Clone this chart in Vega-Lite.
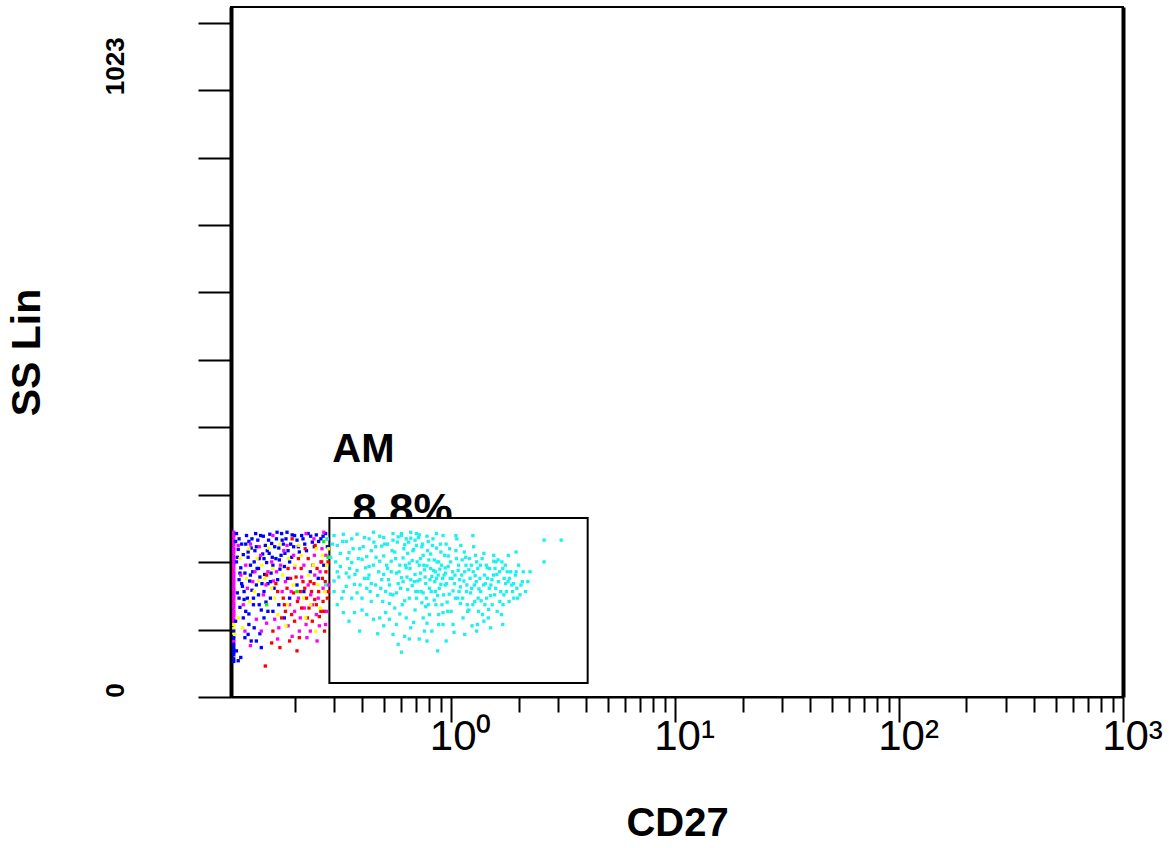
{
  "$schema": "https://vega.github.io/schema/vega-lite/v6.json",
  "autosize": {"type": "none"},
  "padding": {"left": 231, "top": 7, "right": 46, "bottom": 151},
  "width": 892,
  "height": 690,
  "background": "white",
  "config": {
    "view": {"stroke": "black", "strokeWidth": 2},
    "font": "Liberation Sans"
  },
  "datasets": {
    "txt": [
      {"x": 0.2947, "y": 356, "t": "AM", "s": 40},
      {"x": 0.362, "y": 261, "t": "8.8%", "s": 44}
    ],
    "gate": [
      {"x": 0.286, "x2": 4.07, "y": 21.2, "y2": 271.6}
    ],
    "pts": [
      {"x":0.107,"y":250,"c":"m"},{"x":0.107,"y":247,"c":"m"},{"x":0.107,"y":243,"c":"m"},{"x":0.107,"y":238,"c":"m"},{"x":0.107,"y":235,"c":"m"},{"x":0.107,"y":231,"c":"m"},{"x":0.107,"y":226,"c":"m"},{"x":0.107,"y":223,"c":"m"},{"x":0.107,"y":219,"c":"m"},{"x":0.107,"y":214,"c":"m"},{"x":0.107,"y":211,"c":"m"},{"x":0.107,"y":207,"c":"m"},{"x":0.107,"y":202,"c":"m"},{"x":0.107,"y":199,"c":"m"},{"x":0.107,"y":195,"c":"m"},{"x":0.107,"y":190,"c":"m"},{"x":0.107,"y":187,"c":"m"},{"x":0.107,"y":183,"c":"m"},{"x":0.107,"y":178,"c":"m"},{"x":0.107,"y":175,"c":"m"},{"x":0.107,"y":171,"c":"m"},{"x":0.107,"y":166,"c":"m"},{"x":0.107,"y":163,"c":"m"},{"x":0.107,"y":159,"c":"m"},{"x":0.107,"y":154,"c":"m"},{"x":0.107,"y":151,"c":"m"},{"x":0.107,"y":147,"c":"m"},{"x":0.107,"y":142,"c":"m"},{"x":0.107,"y":139,"c":"m"},{"x":0.107,"y":135,"c":"m"},{"x":0.107,"y":130,"c":"m"},{"x":0.107,"y":127,"c":"m"},{"x":0.107,"y":123,"c":"m"},{"x":0.107,"y":118,"c":"m"},{"x":0.107,"y":115,"c":"m"},
      {"x":0.107,"y":110,"c":"y"},{"x":0.107,"y":104,"c":"y"},{"x":0.107,"y":96,"c":"y"},{"x":0.107,"y":100,"c":"b"},{"x":0.107,"y":92,"c":"b"},{"x":0.107,"y":88,"c":"b"},{"x":0.107,"y":84,"c":"m"},{"x":0.107,"y":80,"c":"b"},{"x":0.107,"y":76,"c":"b"},{"x":0.107,"y":72,"c":"b"},{"x":0.107,"y":68,"c":"b"},{"x":0.107,"y":64,"c":"b"},{"x":0.107,"y":58,"c":"b"},{"x":0.107,"y":54,"c":"b"},
      {"x":0.110,"y":248,"c":"b"},{"x":0.113,"y":240,"c":"b"},{"x":0.116,"y":232,"c":"b"},{"x":0.112,"y":224,"c":"b"},{"x":0.118,"y":216,"c":"b"},{"x":0.110,"y":205,"c":"b"},{"x":0.115,"y":196,"c":"b"},{"x":0.120,"y":188,"c":"b"},{"x":0.113,"y":178,"c":"b"},{"x":0.117,"y":168,"c":"b"},{"x":0.111,"y":158,"c":"b"},{"x":0.119,"y":148,"c":"b"},{"x":0.114,"y":136,"c":"b"},{"x":0.122,"y":245,"c":"b"},{"x":0.125,"y":236,"c":"b"},{"x":0.128,"y":226,"c":"b"},{"x":0.124,"y":212,"c":"b"},{"x":0.127,"y":200,"c":"b"},{"x":0.130,"y":190,"c":"b"},{"x":0.126,"y":176,"c":"b"},{"x":0.129,"y":162,"c":"b"},{"x":0.123,"y":150,"c":"b"},{"x":0.131,"y":140,"c":"b"},{"x":0.125,"y":126,"c":"b"},{"x":0.134,"y":248,"c":"b"},{"x":0.137,"y":238,"c":"b"},{"x":0.133,"y":222,"c":"b"},{"x":0.139,"y":210,"c":"b"},{"x":0.136,"y":195,"c":"b"},{"x":0.140,"y":182,"c":"b"},{"x":0.135,"y":170,"c":"b"},{"x":0.138,"y":155,"c":"b"},{"x":0.142,"y":132,"c":"b"},{"x":0.145,"y":244,"c":"b"},{"x":0.148,"y":230,"c":"b"},{"x":0.144,"y":217,"c":"b"},{"x":0.150,"y":204,"c":"b"},{"x":0.147,"y":186,"c":"b"},{"x":0.152,"y":172,"c":"b"},{"x":0.146,"y":160,"c":"b"},{"x":0.149,"y":144,"c":"b"},{"x":0.155,"y":247,"c":"b"},{"x":0.158,"y":233,"c":"b"},{"x":0.154,"y":218,"c":"b"},{"x":0.160,"y":200,"c":"b"},{"x":0.157,"y":188,"c":"b"},{"x":0.162,"y":165,"c":"b"},{"x":0.156,"y":150,"c":"b"},{"x":0.166,"y":240,"c":"b"},{"x":0.170,"y":226,"c":"b"},{"x":0.165,"y":210,"c":"b"},{"x":0.172,"y":194,"c":"b"},{"x":0.168,"y":178,"c":"b"},{"x":0.175,"y":248,"c":"b"},{"x":0.178,"y":232,"c":"b"},{"x":0.174,"y":215,"c":"b"},{"x":0.180,"y":198,"c":"b"},{"x":0.183,"y":240,"c":"b"},{"x":0.187,"y":222,"c":"b"},{"x":0.190,"y":205,"c":"b"},{"x":0.186,"y":180,"c":"b"},{"x":0.195,"y":246,"c":"b"},{"x":0.198,"y":228,"c":"b"},{"x":0.194,"y":212,"c":"b"},{"x":0.205,"y":238,"c":"b"},{"x":0.210,"y":220,"c":"b"},{"x":0.215,"y":245,"c":"b"},{"x":0.222,"y":232,"c":"b"},{"x":0.230,"y":248,"c":"b"},{"x":0.240,"y":235,"c":"b"},{"x":0.250,"y":246,"c":"b"},{"x":0.262,"y":240,"c":"b"},{"x":0.275,"y":248,"c":"b"},{"x":0.118,"y":120,"c":"b"},{"x":0.125,"y":110,"c":"b"},{"x":0.132,"y":105,"c":"b"},{"x":0.140,"y":96,"c":"b"},{"x":0.120,"y":90,"c":"b"},{"x":0.128,"y":85,"c":"b"},{"x":0.146,"y":120,"c":"b"},{"x":0.160,"y":130,"c":"b"},{"x":0.115,"y":60,"c":"b"},{"x":0.112,"y":55,"c":"b"},{"x":0.190,"y":150,"c":"b"},{"x":0.205,"y":170,"c":"b"},{"x":0.270,"y":200,"c":"b"},{"x":0.255,"y":180,"c":"b"},{"x":0.235,"y":190,"c":"b"},{"x":0.220,"y":160,"c":"b"},{"x":0.170,"y":140,"c":"b"},{"x":0.180,"y":120,"c":"b"},
      {"x":0.109,"y":236,"c":"b"},{"x":0.111,"y":212,"c":"b"},{"x":0.114,"y":188,"c":"b"},{"x":0.116,"y":172,"c":"b"},{"x":0.119,"y":160,"c":"b"},{"x":0.121,"y":232,"c":"b"},{"x":0.124,"y":220,"c":"b"},{"x":0.127,"y":185,"c":"b"},{"x":0.129,"y":240,"c":"b"},{"x":0.132,"y":205,"c":"b"},{"x":0.135,"y":228,"c":"b"},{"x":0.138,"y":195,"c":"b"},{"x":0.141,"y":245,"c":"b"},{"x":0.143,"y":172,"c":"b"},{"x":0.146,"y":210,"c":"b"},{"x":0.151,"y":222,"c":"b"},{"x":0.153,"y":238,"c":"b"},{"x":0.156,"y":175,"c":"b"},{"x":0.159,"y":212,"c":"b"},{"x":0.163,"y":228,"c":"b"},{"x":0.167,"y":250,"c":"b"},{"x":0.171,"y":208,"c":"b"},{"x":0.176,"y":238,"c":"b"},{"x":0.181,"y":218,"c":"b"},{"x":0.185,"y":250,"c":"b"},{"x":0.192,"y":232,"c":"b"},{"x":0.200,"y":245,"c":"b"},{"x":0.208,"y":228,"c":"b"},{"x":0.218,"y":240,"c":"b"},{"x":0.226,"y":222,"c":"b"},{"x":0.236,"y":244,"c":"b"},{"x":0.245,"y":228,"c":"b"},{"x":0.256,"y":236,"c":"b"},{"x":0.268,"y":244,"c":"b"},{"x":0.280,"y":228,"c":"b"},{"x":0.113,"y":150,"c":"b"},{"x":0.121,"y":130,"c":"b"},{"x":0.109,"y":115,"c":"b"},{"x":0.131,"y":150,"c":"b"},{"x":0.139,"y":140,"c":"b"},{"x":0.152,"y":130,"c":"b"},{"x":0.124,"y":95,"c":"b"},{"x":0.135,"y":85,"c":"b"},{"x":0.142,"y":75,"c":"b"},{"x":0.110,"y":70,"c":"b"},
      {"x":0.112,"y":230,"c":"m"},{"x":0.121,"y":200,"c":"m"},{"x":0.130,"y":175,"c":"m"},{"x":0.118,"y":140,"c":"m"},{"x":0.127,"y":232,"c":"m"},{"x":0.141,"y":215,"c":"m"},{"x":0.152,"y":190,"c":"m"},{"x":0.161,"y":176,"c":"m"},{"x":0.176,"y":160,"c":"m"},{"x":0.190,"y":140,"c":"m"},{"x":0.200,"y":130,"c":"m"},{"x":0.212,"y":120,"c":"m"},{"x":0.225,"y":110,"c":"m"},{"x":0.240,"y":140,"c":"m"},{"x":0.255,"y":150,"c":"m"},{"x":0.268,"y":165,"c":"m"},{"x":0.278,"y":130,"c":"m"},{"x":0.160,"y":245,"c":"m"},{"x":0.185,"y":230,"c":"m"},{"x":0.200,"y":196,"c":"m"},{"x":0.220,"y":200,"c":"m"},{"x":0.245,"y":215,"c":"m"},{"x":0.265,"y":225,"c":"m"},{"x":0.230,"y":170,"c":"m"},{"x":0.250,"y":125,"c":"m"},{"x":0.275,"y":110,"c":"m"},{"x":0.210,"y":100,"c":"m"},{"x":0.195,"y":92,"c":"m"},{"x":0.170,"y":105,"c":"m"},{"x":0.150,"y":112,"c":"m"},{"x":0.135,"y":118,"c":"m"},{"x":0.120,"y":100,"c":"m"},{"x":0.145,"y":155,"c":"m"},{"x":0.173,"y":200,"c":"m"},{"x":0.215,"y":182,"c":"m"},{"x":0.260,"y":190,"c":"m"},{"x":0.280,"y":240,"c":"m"},{"x":0.270,"y":250,"c":"m"},{"x":0.235,"y":100,"c":"m"},{"x":0.258,"y":108,"c":"m"},{"x":0.168,"y":88,"c":"m"},
      {"x":0.115,"y":185,"c":"m"},{"x":0.123,"y":165,"c":"m"},{"x":0.133,"y":190,"c":"m"},{"x":0.139,"y":228,"c":"m"},{"x":0.149,"y":170,"c":"m"},{"x":0.158,"y":205,"c":"m"},{"x":0.166,"y":190,"c":"m"},{"x":0.182,"y":175,"c":"m"},{"x":0.193,"y":160,"c":"m"},{"x":0.208,"y":150,"c":"m"},{"x":0.221,"y":135,"c":"m"},{"x":0.236,"y":155,"c":"m"},{"x":0.246,"y":185,"c":"m"},{"x":0.262,"y":205,"c":"m"},{"x":0.276,"y":215,"c":"m"},{"x":0.284,"y":170,"c":"m"},{"x":0.244,"y":240,"c":"m"},{"x":0.225,"y":248,"c":"m"},{"x":0.198,"y":215,"c":"m"},{"x":0.179,"y":222,"c":"m"},{"x":0.163,"y":118,"c":"m"},{"x":0.187,"y":108,"c":"m"},{"x":0.227,"y":90,"c":"m"},{"x":0.252,"y":85,"c":"m"},{"x":0.142,"y":100,"c":"m"},{"x":0.127,"y":78,"c":"m"},
      {"x":0.150,"y":185,"c":"r"},{"x":0.165,"y":172,"c":"r"},{"x":0.178,"y":150,"c":"r"},{"x":0.185,"y":165,"c":"r"},{"x":0.192,"y":180,"c":"r"},{"x":0.198,"y":158,"c":"r"},{"x":0.206,"y":145,"c":"r"},{"x":0.212,"y":160,"c":"r"},{"x":0.218,"y":175,"c":"r"},{"x":0.226,"y":150,"c":"r"},{"x":0.232,"y":135,"c":"r"},{"x":0.238,"y":160,"c":"r"},{"x":0.244,"y":172,"c":"r"},{"x":0.250,"y":140,"c":"r"},{"x":0.256,"y":160,"c":"r"},{"x":0.262,"y":130,"c":"r"},{"x":0.268,"y":145,"c":"r"},{"x":0.274,"y":175,"c":"r"},{"x":0.280,"y":150,"c":"r"},{"x":0.200,"y":115,"c":"r"},{"x":0.215,"y":135,"c":"r"},{"x":0.228,"y":120,"c":"r"},{"x":0.240,"y":115,"c":"r"},{"x":0.252,"y":195,"c":"r"},{"x":0.264,"y":205,"c":"r"},{"x":0.276,"y":190,"c":"r"},{"x":0.223,"y":225,"c":"r"},{"x":0.208,"y":210,"c":"r"},{"x":0.187,"y":195,"c":"r"},{"x":0.175,"y":120,"c":"r"},{"x":0.160,"y":100,"c":"r"},{"x":0.158,"y":82,"c":"r"},{"x":0.172,"y":75,"c":"r"},{"x":0.205,"y":70,"c":"r"},{"x":0.148,"y":47,"c":"r"},{"x":0.182,"y":130,"c":"r"},{"x":0.247,"y":230,"c":"r"},{"x":0.272,"y":100,"c":"r"},{"x":0.195,"y":240,"c":"r"},{"x":0.230,"y":210,"c":"r"},
      {"x":0.168,"y":160,"c":"r"},{"x":0.180,"y":140,"c":"r"},{"x":0.194,"y":125,"c":"r"},{"x":0.203,"y":182,"c":"r"},{"x":0.214,"y":195,"c":"r"},{"x":0.235,"y":175,"c":"r"},{"x":0.246,"y":148,"c":"r"},{"x":0.258,"y":122,"c":"r"},{"x":0.270,"y":130,"c":"r"},{"x":0.283,"y":160,"c":"r"},{"x":0.266,"y":180,"c":"r"},{"x":0.241,"y":200,"c":"r"},{"x":0.222,"y":165,"c":"r"},{"x":0.210,"y":90,"c":"r"},{"x":0.190,"y":85,"c":"r"},{"x":0.282,"y":205,"c":"r"},
      {"x":0.114,"y":210,"c":"y"},{"x":0.122,"y":180,"c":"y"},{"x":0.132,"y":160,"c":"y"},{"x":0.143,"y":200,"c":"y"},{"x":0.153,"y":226,"c":"y"},{"x":0.163,"y":150,"c":"y"},{"x":0.177,"y":185,"c":"y"},{"x":0.188,"y":210,"c":"y"},{"x":0.197,"y":170,"c":"y"},{"x":0.209,"y":230,"c":"y"},{"x":0.219,"y":150,"c":"y"},{"x":0.231,"y":185,"c":"y"},{"x":0.242,"y":200,"c":"y"},{"x":0.254,"y":170,"c":"y"},{"x":0.266,"y":215,"c":"y"},{"x":0.278,"y":200,"c":"y"},{"x":0.168,"y":125,"c":"y"},{"x":0.183,"y":108,"c":"y"},{"x":0.138,"y":176,"c":"y"},{"x":0.126,"y":145,"c":"y"},{"x":0.224,"y":120,"c":"y"},{"x":0.260,"y":135,"c":"y"},{"x":0.248,"y":100,"c":"y"},{"x":0.117,"y":105,"c":"y"},{"x":0.108,"y":95,"c":"y"},
      {"x":0.125,"y":225,"c":"y"},{"x":0.136,"y":210,"c":"y"},{"x":0.147,"y":180,"c":"y"},{"x":0.158,"y":165,"c":"y"},{"x":0.172,"y":232,"c":"y"},{"x":0.186,"y":140,"c":"y"},{"x":0.201,"y":200,"c":"y"},{"x":0.214,"y":215,"c":"y"},{"x":0.236,"y":140,"c":"y"},{"x":0.250,"y":225,"c":"y"},{"x":0.272,"y":160,"c":"y"},{"x":0.283,"y":225,"c":"y"},{"x":0.160,"y":195,"c":"y"},{"x":0.112,"y":120,"c":"y"},
      {"x":0.270,"y":236,"c":"g"},{"x":0.282,"y":212,"c":"g"},{"x":0.205,"y":160,"c":"g"},{"x":0.150,"y":140,"c":"g"},
      {"x":0.280,"y":240,"c":"c"},{"x":0.275,"y":170,"c":"c"},
      {"x":0.30,"y":245,"c":"c"},{"x":0.31,"y":230,"c":"c"},{"x":0.29,"y":212,"c":"c"},{"x":0.32,"y":198,"c":"c"},{"x":0.30,"y":176,"c":"c"},{"x":0.33,"y":160,"c":"c"},{"x":0.31,"y":140,"c":"c"},{"x":0.34,"y":236,"c":"c"},{"x":0.35,"y":219,"c":"c"},{"x":0.36,"y":204,"c":"c"},{"x":0.34,"y":188,"c":"c"},{"x":0.37,"y":171,"c":"c"},{"x":0.36,"y":150,"c":"c"},{"x":0.38,"y":247,"c":"c"},{"x":0.39,"y":225,"c":"c"},{"x":0.40,"y":209,"c":"c"},{"x":0.38,"y":192,"c":"c"},{"x":0.41,"y":180,"c":"c"},{"x":0.42,"y":165,"c":"c"},{"x":0.40,"y":132,"c":"c"},{"x":0.43,"y":240,"c":"c"},{"x":0.44,"y":222,"c":"c"},{"x":0.45,"y":200,"c":"c"},{"x":0.43,"y":185,"c":"c"},{"x":0.46,"y":170,"c":"c"},{"x":0.47,"y":154,"c":"c"},{"x":0.45,"y":118,"c":"c"},{"x":0.48,"y":244,"c":"c"},{"x":0.49,"y":229,"c":"c"},{"x":0.50,"y":214,"c":"c"},{"x":0.52,"y":195,"c":"c"},{"x":0.49,"y":178,"c":"c"},{"x":0.51,"y":160,"c":"c"},{"x":0.53,"y":142,"c":"c"},{"x":0.50,"y":108,"c":"c"},{"x":0.55,"y":238,"c":"c"},{"x":0.56,"y":220,"c":"c"},{"x":0.54,"y":206,"c":"c"},{"x":0.57,"y":188,"c":"c"},{"x":0.58,"y":172,"c":"c"},{"x":0.55,"y":155,"c":"c"},{"x":0.59,"y":126,"c":"c"},{"x":0.60,"y":248,"c":"c"},{"x":0.62,"y":231,"c":"c"},{"x":0.61,"y":211,"c":"c"},{"x":0.63,"y":196,"c":"c"},{"x":0.60,"y":181,"c":"c"},{"x":0.64,"y":163,"c":"c"},{"x":0.62,"y":146,"c":"c"},{"x":0.66,"y":241,"c":"c"},{"x":0.68,"y":224,"c":"c"},{"x":0.65,"y":203,"c":"c"},{"x":0.69,"y":186,"c":"c"},{"x":0.67,"y":169,"c":"c"},{"x":0.70,"y":150,"c":"c"},{"x":0.68,"y":113,"c":"c"},{"x":0.72,"y":246,"c":"c"},{"x":0.74,"y":228,"c":"c"},{"x":0.73,"y":210,"c":"c"},{"x":0.76,"y":193,"c":"c"},{"x":0.71,"y":176,"c":"c"},{"x":0.75,"y":158,"c":"c"},{"x":0.77,"y":137,"c":"c"},{"x":0.79,"y":236,"c":"c"},{"x":0.81,"y":217,"c":"c"},{"x":0.78,"y":199,"c":"c"},{"x":0.82,"y":183,"c":"c"},{"x":0.80,"y":165,"c":"c"},{"x":0.84,"y":147,"c":"c"},{"x":0.86,"y":226,"c":"c"},{"x":0.88,"y":205,"c":"c"},{"x":0.85,"y":190,"c":"c"},{"x":0.90,"y":171,"c":"c"},{"x":0.87,"y":154,"c":"c"},{"x":0.92,"y":128,"c":"c"},{"x":0.95,"y":232,"c":"c"},{"x":0.97,"y":214,"c":"c"},{"x":0.94,"y":196,"c":"c"},{"x":0.99,"y":180,"c":"c"},{"x":1.02,"y":161,"c":"c"},{"x":0.96,"y":144,"c":"c"},{"x":1.05,"y":222,"c":"c"},{"x":1.08,"y":200,"c":"c"},{"x":1.04,"y":185,"c":"c"},{"x":1.10,"y":167,"c":"c"},{"x":1.07,"y":150,"c":"c"},{"x":1.13,"y":120,"c":"c"},{"x":1.16,"y":212,"c":"c"},{"x":1.20,"y":193,"c":"c"},{"x":1.14,"y":176,"c":"c"},{"x":1.22,"y":158,"c":"c"},{"x":1.18,"y":140,"c":"c"},{"x":1.26,"y":228,"c":"c"},{"x":1.30,"y":205,"c":"c"},{"x":1.28,"y":184,"c":"c"},{"x":1.33,"y":164,"c":"c"},{"x":1.36,"y":146,"c":"c"},{"x":1.31,"y":110,"c":"c"},{"x":1.40,"y":218,"c":"c"},{"x":1.45,"y":196,"c":"c"},{"x":1.42,"y":172,"c":"c"},{"x":1.50,"y":154,"c":"c"},{"x":1.47,"y":133,"c":"c"},{"x":1.55,"y":206,"c":"c"},{"x":1.60,"y":186,"c":"c"},{"x":1.58,"y":165,"c":"c"},{"x":1.65,"y":145,"c":"c"},{"x":1.70,"y":195,"c":"c"},{"x":1.75,"y":172,"c":"c"},{"x":1.68,"y":125,"c":"c"},{"x":1.82,"y":180,"c":"c"},{"x":1.88,"y":160,"c":"c"},{"x":1.95,"y":190,"c":"c"},{"x":2.05,"y":170,"c":"c"},{"x":2.2,"y":175,"c":"c"},{"x":2.6,"y":238,"c":"c"},{"x":3.1,"y":238,"c":"c"},{"x":2.6,"y":205,"c":"c"},
      {"x":0.33,"y":247,"c":"c"},{"x":0.35,"y":182,"c":"c"},{"x":0.37,"y":128,"c":"c"},{"x":0.39,"y":100,"c":"c"},{"x":0.42,"y":213,"c":"c"},{"x":0.44,"y":145,"c":"c"},{"x":0.47,"y":96,"c":"c"},{"x":0.52,"y":232,"c":"c"},{"x":0.54,"y":190,"c":"c"},{"x":0.56,"y":135,"c":"c"},{"x":0.58,"y":80,"c":"c"},{"x":0.60,"y":68,"c":"c"},{"x":0.62,"y":92,"c":"c"},{"x":0.64,"y":218,"c":"c"},{"x":0.66,"y":178,"c":"c"},{"x":0.70,"y":230,"c":"c"},{"x":0.72,"y":200,"c":"c"},{"x":0.74,"y":143,"c":"c"},{"x":0.76,"y":100,"c":"c"},{"x":0.78,"y":85,"c":"c"},{"x":0.80,"y":125,"c":"c"},{"x":0.83,"y":240,"c":"c"},{"x":0.85,"y":160,"c":"c"},{"x":0.88,"y":110,"c":"c"},{"x":0.90,"y":220,"c":"c"},{"x":0.93,"y":185,"c":"c"},{"x":0.98,"y":156,"c":"c"},{"x":1.00,"y":130,"c":"c"},{"x":1.03,"y":98,"c":"c"},{"x":1.06,"y":240,"c":"c"},{"x":1.12,"y":208,"c":"c"},{"x":1.15,"y":190,"c":"c"},{"x":1.20,"y":132,"c":"c"},{"x":1.24,"y":108,"c":"c"},{"x":1.27,"y":170,"c":"c"},{"x":1.35,"y":200,"c":"c"},{"x":1.38,"y":125,"c":"c"},{"x":1.44,"y":150,"c":"c"},{"x":1.52,"y":178,"c":"c"},{"x":1.62,"y":208,"c":"c"},{"x":1.72,"y":155,"c":"c"},{"x":1.78,"y":190,"c":"c"},{"x":1.90,"y":172,"c":"c"},{"x":1.98,"y":150,"c":"c"},{"x":2.1,"y":190,"c":"c"},
      {"x":0.31,"y":190,"c":"c"},{"x":0.32,"y":218,"c":"c"},{"x":0.34,"y":168,"c":"c"},{"x":0.36,"y":240,"c":"c"},{"x":0.38,"y":158,"c":"c"},{"x":0.41,"y":242,"c":"c"},{"x":0.43,"y":198,"c":"c"},{"x":0.46,"y":228,"c":"c"},{"x":0.48,"y":206,"c":"c"},{"x":0.50,"y":186,"c":"c"},{"x":0.53,"y":170,"c":"c"},{"x":0.55,"y":248,"c":"c"},{"x":0.57,"y":158,"c":"c"},{"x":0.59,"y":200,"c":"c"},{"x":0.61,"y":175,"c":"c"},{"x":0.63,"y":240,"c":"c"},{"x":0.65,"y":150,"c":"c"},{"x":0.67,"y":207,"c":"c"},{"x":0.69,"y":238,"c":"c"},{"x":0.71,"y":160,"c":"c"},{"x":0.73,"y":188,"c":"c"},{"x":0.75,"y":215,"c":"c"},{"x":0.77,"y":172,"c":"c"},{"x":0.79,"y":140,"c":"c"},{"x":0.81,"y":195,"c":"c"},{"x":0.84,"y":208,"c":"c"},{"x":0.86,"y":180,"c":"c"},{"x":0.89,"y":194,"c":"c"},{"x":0.91,"y":140,"c":"c"},{"x":0.94,"y":170,"c":"c"},{"x":0.97,"y":198,"c":"c"},{"x":1.01,"y":180,"c":"c"},{"x":1.09,"y":178,"c":"c"},{"x":1.17,"y":160,"c":"c"},{"x":1.23,"y":200,"c":"c"},{"x":1.32,"y":150,"c":"c"},{"x":1.41,"y":185,"c":"c"},{"x":1.48,"y":165,"c":"c"},{"x":1.57,"y":195,"c":"c"},{"x":0.30,"y":160,"c":"c"},{"x":0.33,"y":128,"c":"c"},{"x":0.35,"y":115,"c":"c"},{"x":0.40,"y":150,"c":"c"},{"x":0.44,"y":172,"c":"c"},{"x":0.51,"y":128,"c":"c"},{"x":0.57,"y":110,"c":"c"},{"x":0.63,"y":120,"c":"c"},{"x":0.69,"y":132,"c":"c"},{"x":0.75,"y":120,"c":"c"},{"x":0.82,"y":100,"c":"c"},{"x":0.92,"y":110,"c":"c"},{"x":1.10,"y":142,"c":"c"},{"x":1.25,"y":140,"c":"c"},{"x":1.40,"y":115,"c":"c"},{"x":0.65,"y":88,"c":"c"},{"x":0.48,"y":120,"c":"c"},{"x":0.87,"y":70,"c":"c"},{"x":0.60,"y":245,"c":"c"},{"x":0.45,"y":250,"c":"c"},{"x":0.50,"y":242,"c":"c"},{"x":0.70,"y":248,"c":"c"},
      {"x":0.295,"y":232,"c":"c"},{"x":0.305,"y":205,"c":"c"},{"x":0.315,"y":182,"c":"c"},{"x":0.325,"y":150,"c":"c"},{"x":0.328,"y":236,"c":"c"},{"x":0.345,"y":210,"c":"c"},{"x":0.352,"y":195,"c":"c"},{"x":0.365,"y":225,"c":"c"},{"x":0.372,"y":186,"c":"c"},{"x":0.385,"y":210,"c":"c"},{"x":0.392,"y":170,"c":"c"},{"x":0.405,"y":228,"c":"c"},{"x":0.415,"y":196,"c":"c"},{"x":0.425,"y":180,"c":"c"},{"x":0.435,"y":160,"c":"c"},{"x":0.452,"y":235,"c":"c"},{"x":0.462,"y":212,"c":"c"},{"x":0.475,"y":190,"c":"c"},{"x":0.485,"y":165,"c":"c"},{"x":0.495,"y":145,"c":"c"},{"x":0.505,"y":232,"c":"c"},{"x":0.515,"y":200,"c":"c"},{"x":0.525,"y":178,"c":"c"},{"x":0.535,"y":156,"c":"c"},{"x":0.545,"y":222,"c":"c"},{"x":0.565,"y":210,"c":"c"},{"x":0.575,"y":235,"c":"c"},{"x":0.585,"y":190,"c":"c"},{"x":0.595,"y":165,"c":"c"},{"x":0.605,"y":140,"c":"c"},{"x":0.615,"y":225,"c":"c"},{"x":0.625,"y":200,"c":"c"},{"x":0.635,"y":182,"c":"c"},{"x":0.645,"y":235,"c":"c"},{"x":0.655,"y":195,"c":"c"},{"x":0.675,"y":222,"c":"c"},{"x":0.685,"y":175,"c":"c"},{"x":0.695,"y":160,"c":"c"},{"x":0.705,"y":205,"c":"c"},{"x":0.715,"y":242,"c":"c"},{"x":0.725,"y":178,"c":"c"},{"x":0.735,"y":160,"c":"c"},{"x":0.745,"y":232,"c":"c"},{"x":0.755,"y":200,"c":"c"},{"x":0.765,"y":182,"c":"c"},{"x":0.775,"y":150,"c":"c"},{"x":0.785,"y":222,"c":"c"},{"x":0.795,"y":208,"c":"c"},{"x":0.805,"y":178,"c":"c"},{"x":0.815,"y":160,"c":"c"},{"x":0.825,"y":230,"c":"c"},{"x":0.835,"y":192,"c":"c"},{"x":0.845,"y":175,"c":"c"},{"x":0.855,"y":140,"c":"c"},{"x":0.865,"y":205,"c":"c"},{"x":0.875,"y":185,"c":"c"},{"x":0.885,"y":165,"c":"c"},{"x":0.895,"y":232,"c":"c"},{"x":0.905,"y":200,"c":"c"},{"x":0.915,"y":180,"c":"c"},{"x":0.925,"y":155,"c":"c"},{"x":0.935,"y":215,"c":"c"},{"x":0.945,"y":188,"c":"c"},{"x":0.955,"y":172,"c":"c"},{"x":0.965,"y":130,"c":"c"},{"x":0.985,"y":225,"c":"c"},{"x":0.995,"y":205,"c":"c"},{"x":1.015,"y":190,"c":"c"},{"x":1.035,"y":172,"c":"c"},{"x":1.045,"y":150,"c":"c"},{"x":1.055,"y":210,"c":"c"},{"x":1.075,"y":192,"c":"c"},{"x":1.085,"y":160,"c":"c"},{"x":1.105,"y":230,"c":"c"},{"x":1.115,"y":185,"c":"c"},{"x":1.125,"y":150,"c":"c"},{"x":1.145,"y":220,"c":"c"},{"x":1.165,"y":200,"c":"c"},{"x":1.175,"y":170,"c":"c"},{"x":1.185,"y":130,"c":"c"},{"x":1.205,"y":210,"c":"c"},{"x":1.215,"y":180,"c":"c"},{"x":1.235,"y":165,"c":"c"},{"x":1.255,"y":190,"c":"c"},{"x":1.275,"y":145,"c":"c"},{"x":1.285,"y":215,"c":"c"},{"x":1.295,"y":175,"c":"c"},{"x":1.315,"y":195,"c":"c"},{"x":1.325,"y":130,"c":"c"},{"x":1.345,"y":180,"c":"c"},{"x":1.355,"y":160,"c":"c"},{"x":1.375,"y":210,"c":"c"},{"x":1.395,"y":170,"c":"c"},{"x":1.415,"y":140,"c":"c"},{"x":1.435,"y":200,"c":"c"},{"x":1.455,"y":180,"c":"c"},{"x":1.465,"y":120,"c":"c"},{"x":1.485,"y":195,"c":"c"},{"x":1.505,"y":170,"c":"c"},{"x":1.525,"y":140,"c":"c"},{"x":1.545,"y":185,"c":"c"},{"x":1.565,"y":155,"c":"c"},{"x":1.585,"y":205,"c":"c"},{"x":1.605,"y":130,"c":"c"},{"x":1.625,"y":175,"c":"c"},{"x":1.645,"y":190,"c":"c"},{"x":1.665,"y":160,"c":"c"},{"x":1.685,"y":205,"c":"c"},{"x":1.705,"y":140,"c":"c"},{"x":1.725,"y":180,"c":"c"},{"x":1.745,"y":200,"c":"c"},{"x":1.765,"y":160,"c":"c"},{"x":1.795,"y":175,"c":"c"},{"x":1.815,"y":145,"c":"c"},{"x":1.845,"y":190,"c":"c"},{"x":1.865,"y":170,"c":"c"},{"x":1.905,"y":150,"c":"c"},{"x":1.935,"y":185,"c":"c"},{"x":1.965,"y":165,"c":"c"},{"x":2.00,"y":200,"c":"c"},{"x":2.03,"y":155,"c":"c"},{"x":2.08,"y":175,"c":"c"},{"x":2.15,"y":160,"c":"c"},{"x":2.25,"y":190,"c":"c"},{"x":1.95,"y":220,"c":"c"},{"x":1.80,"y":215,"c":"c"},{"x":1.15,"y":95,"c":"c"},{"x":1.02,"y":110,"c":"c"},{"x":0.72,"y":88,"c":"c"},{"x":0.55,"y":95,"c":"c"},{"x":0.95,"y":85,"c":"c"},{"x":1.30,"y":100,"c":"c"},{"x":1.50,"y":105,"c":"c"},{"x":1.70,"y":110,"c":"c"},{"x":0.42,"y":125,"c":"c"},{"x":0.53,"y":118,"c":"c"},{"x":0.66,"y":105,"c":"c"},{"x":0.78,"y":112,"c":"c"},{"x":0.88,"y":125,"c":"c"},{"x":1.55,"y":215,"c":"c"},{"x":1.25,"y":245,"c":"c"},{"x":1.05,"y":245,"c":"c"},{"x":0.92,"y":245,"c":"c"},{"x":0.86,"y":248,"c":"c"},{"x":0.78,"y":244,"c":"c"},{"x":0.66,"y":250,"c":"c"},{"x":0.58,"y":243,"c":"c"}
    ]
  },
  "resolve": {"axis": {"x": "independent", "y": "independent"}},
  "layer": [
    {
      "data": {"name": "txt"},
      "mark": {"type": "text", "align": "left", "baseline": "alphabetic", "fontWeight": "bold", "font": "Liberation Sans", "color": "black"},
      "encoding": {
        "x": {
          "field": "x", "type": "quantitative",
          "scale": {"type": "log", "domain": [0.104, 1000], "nice": false},
          "axis": {
            "values": [0.2,0.3,0.4,0.5,0.6,0.7,0.8,0.9,1,2,3,4,5,6,7,8,9,10,20,30,40,50,60,70,80,90,100,200,300,400,500,600,700,800,900,1000],
            "labelExpr": "datum.value == 1 ? '10⁰' : datum.value == 10 ? '10¹' : datum.value == 100 ? '10²' : datum.value == 1000 ? '10³' : ''",
            "tickSize": {"condition": {"test": "datum.value == 1 || datum.value == 10 || datum.value == 100 || datum.value == 1000", "value": 25}, "value": 15},
            "tickColor": "black", "tickWidth": 2,
            "domainColor": "black", "domainWidth": 2,
            "grid": false,
            "labelFont": "Liberation Sans", "labelFontSize": 42, "labelColor": "black",
            "labelPadding": -6, "labelOffset": 9, "labelOverlap": false, "labelFlush": false, "labelBound": false,
            "title": "CD27", "titleFont": "Liberation Sans", "titleFontSize": 40, "titleFontWeight": "bold", "titleColor": "black", "titlePadding": 46
          }
        },
        "y": {
          "field": "y", "type": "quantitative",
          "scale": {"domain": [0, 1047], "nice": false, "zero": false},
          "axis": {
            "values": [0,102.3,204.6,306.9,409.2,511.5,613.8,716.1,818.4,920.7,1023],
            "labelExpr": "datum.value == 0 ? '0' : datum.value == 1023 ? '1023' : ''",
            "tickSize": 33, "tickColor": "black", "tickWidth": 2,
            "domainColor": "black", "domainWidth": 4,
            "grid": false,
            "labelAngle": 270, "labelAlign": "center", "labelBaseline": "bottom",
            "labelFont": "Liberation Sans", "labelFontSize": 26, "labelFontWeight": "bold", "labelColor": "black",
            "labelPadding": 70,
            "labelOffset": {"condition": {"test": "datum.value == 1023", "value": 43}, "value": -7},
            "labelOverlap": false, "labelFlush": false, "labelBound": false,
            "title": "SS Lin", "titleFont": "Liberation Sans", "titleFontSize": 41, "titleFontWeight": "bold", "titleColor": "black", "titlePadding": 54
          }
        },
        "text": {"field": "t", "type": "nominal"},
        "size": {"field": "s", "type": "quantitative", "scale": null, "legend": null}
      }
    },
    {
      "data": {"name": "gate"},
      "mark": {"type": "rect", "fill": "white", "stroke": "black", "strokeWidth": 2},
      "encoding": {
        "x": {"field": "x", "type": "quantitative", "axis": null},
        "x2": {"field": "x2"},
        "y": {"field": "y", "type": "quantitative",
          "axis": {"orient": "right", "ticks": false, "labels": false, "title": null, "grid": false, "domainColor": "black", "domainWidth": 4}},
        "y2": {"field": "y2"}
      }
    },
    {
      "data": {"name": "pts"},
      "mark": {"type": "square", "size": 11, "opacity": 1, "filled": true},
      "encoding": {
        "x": {"field": "x", "type": "quantitative", "axis": null},
        "y": {"field": "y", "type": "quantitative", "axis": null},
        "color": {
          "field": "c", "type": "nominal", "legend": null,
          "scale": {"domain": ["c", "b", "m", "r", "y", "g"], "range": ["#1ef0f0", "#0000ff", "#ff00ff", "#ff0000", "#ffff00", "#00ff00"]}
        }
      }
    }
  ]
}
